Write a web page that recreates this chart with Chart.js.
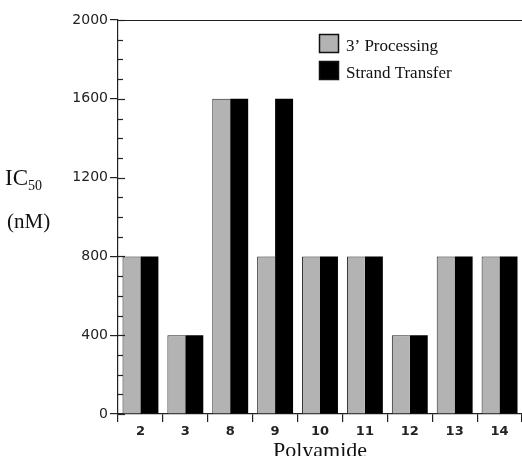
<!DOCTYPE html>
<html><head><meta charset="utf-8">
<script src="https://cdn.jsdelivr.net/npm/chart.js@4/dist/chart.umd.min.js"></script>
<style>html,body{margin:0;padding:0;background:#fff}#wrap{width:522px;height:456px}</style>
</head><body><div id="wrap"><canvas id="c" width="522" height="456"></canvas></div>
<script>
const categories = ['2','3','8','9','10','11','12','13','14'];
const processing = [800,400,1600,800,800,800,400,800,800];
const strandTransfer = [800,400,1600,1600,800,800,400,800,800];
const seriesNames = ['3\u2019 Processing','Strand Transfer'];
const yTicks = [0,400,800,1200,1600,2000];

const decor = {
  id:'decor',
  afterDraw(chart){
    const ctx = chart.ctx, ca = chart.chartArea, y = chart.scales.y;
    ctx.save();
    ctx.strokeStyle = '#222'; ctx.lineWidth = 1.2;
    ctx.beginPath(); ctx.moveTo(ca.left, ca.top+0.5); ctx.lineTo(ca.right, ca.top+0.5); ctx.stroke();
    for (let v=0; v<=2000; v+=100){
      const py = Math.round(y.getPixelForValue(v))+0.5;
      ctx.beginPath();
      if (v%400===0){ ctx.moveTo(ca.left, py); ctx.lineTo(ca.left+7, py); }
      else { ctx.moveTo(ca.left, py); ctx.lineTo(ca.left+5, py); }
      ctx.stroke();
    }
    const ds = chart.data.datasets;
    ctx.font = '17px "Liberation Serif", "Times New Roman", serif';
    ctx.textBaseline = 'alphabetic';
    ds.forEach((d,i)=>{
      const bx = 319, by = 34 + i*27;
      ctx.fillStyle = d.backgroundColor;
      ctx.fillRect(bx, by, 20, 19);
      ctx.strokeStyle = '#111'; ctx.lineWidth = 1.5;
      ctx.strokeRect(bx+0.5, by+0.5, 19, 18);
      ctx.fillStyle = '#111';
      ctx.fillText(d.label, 346, by+17);
    });
    ctx.fillStyle = '#111';
    ctx.font = '23px "Liberation Serif", "Times New Roman", serif';
    ctx.textAlign = 'left';
    ctx.fillText('IC', 5, 185);
    const w = ctx.measureText('IC').width;
    ctx.font = '14px "Liberation Serif", "Times New Roman", serif';
    ctx.fillText('50', 5+w, 190);
    ctx.font = '21px "Liberation Serif", "Times New Roman", serif';
    ctx.fillText('(nM)', 7, 228);
    ctx.textAlign = 'center';
    ctx.font = '22px "Liberation Serif", "Times New Roman", serif';
    ctx.fillText('Polyamide', (ca.left+ca.right)/2, 457);
    ctx.restore();
  }
};

new Chart(document.getElementById('c'), {
  type:'bar',
  data:{
    labels: categories,
    datasets:[
      {label: seriesNames[0], data: processing, backgroundColor:'#b3b3b3', borderColor:'#222', borderWidth:{top:1,left:1,right:0,bottom:0}},
      {label: seriesNames[1], data: strandTransfer, backgroundColor:'#000', borderColor:'#000', borderWidth:0}
    ]
  },
  options:{
    responsive:false, animation:false, devicePixelRatio:1,
    layout:{padding:{top:20,right:0,bottom:0,left:0}},
    plugins:{legend:{display:false}, tooltip:{enabled:false}},
    datasets:{bar:{categoryPercentage:0.8, barPercentage:1.0}},
    scales:{
      x:{
        offset:true,
        grid:{display:true, drawOnChartArea:false, offset:true, tickLength:8, color:'#222', lineWidth:1.2},
        border:{display:true, color:'#222', width:1.2},
        ticks:{color:'#222', font:{family:'"DejaVu Sans", sans-serif', size:13, weight:'bold'}, padding:2, maxRotation:0},
        afterFit(s){ s.height = 42; }
      },
      y:{
        min:0, max:2000,
        afterBuildTicks(s){ s.ticks = yTicks.map(v=>({value:v})); },
        grid:{display:true, drawOnChartArea:false, tickLength:8, color:'#222', lineWidth:1.2},
        border:{display:true, color:'#222', width:1.2},
        ticks:{color:'#222', font:{family:'"DejaVu Sans", sans-serif', size:14}, padding:2, callback:(v)=>String(v)},
        afterFit(s){ s.width = 118; }
      }
    }
  },
  plugins:[decor]
});
</script></body></html>
